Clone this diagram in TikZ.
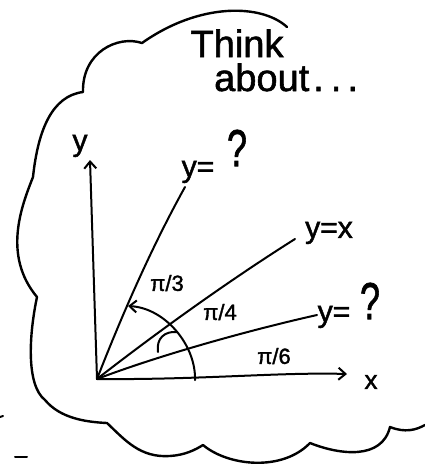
\documentclass[tikz,border=0pt]{standalone}
\usepackage{fontspec}
\setmainfont[FakeBold=1.5]{Liberation Sans}
\usetikzlibrary{arrows.meta}
\begin{document}
\begin{tikzpicture}[x=1pt,y=-1pt,
  pen/.style={line width=2pt,line cap=round,line join=round},
  cloudline/.style={line width=2.4pt,line cap=round,line join=round},
  head/.style={-{Straight Barb[length=7pt,width=12pt,line width=2pt]}},
  lab/.style={inner sep=0pt,font=\fontsize{22}{22}\selectfont},
  eqn/.style={inner sep=0pt,font=\fontsize{30}{30}\selectfont},
  big/.style={inner sep=0pt,font=\fontsize{38}{38}\selectfont},
  qm/.style={inner sep=0pt,font=\fontsize{36}{36}\selectfont,yscale=1.45}]
\useasboundingbox (0,0) rectangle (425,467);
% cloud (open on the right)
\draw[cloudline] (287,27) .. controls (262,4) and (200,2) .. (142,43)
  .. controls (118,35) and (82,52) .. (83,92)
  .. controls (52,96) and (38,130) .. (33,177)
  .. controls (22,205) and (2,255) .. (37,297)
  .. controls (29,335) and (26,385) .. (45,400)
  .. controls (60,418) and (85,422) .. (107,423)
  .. controls (125,440) and (140,458) .. (170,456)
  .. controls (185,455) and (195,450) .. (203,445)
  .. controls (228,466) and (282,472) .. (310,443)
  .. controls (340,455) and (382,460) .. (390,427)
  .. controls (405,433) and (416,430) .. (425,425);
% small marks at left
\draw[pen] (0,417) -- (3,416);
\draw[pen] (15,457) -- (27,457);
% coordinates
\coordinate (O) at (97,379);
\coordinate (Ytop) at (90,160);
\coordinate (Xend) at (347,374);
\coordinate (L3) at (185,187);
\coordinate (L4) at (295,239);
\coordinate (L6) at (317,315);
\coordinate (A0) at (195,380);
\coordinate (A1) at (128,306);
\coordinate (B0) at (158,352);
\coordinate (B1) at (177,332);
% axes
\draw[pen,head] (O) -- (Ytop);
\draw[pen,head] (O) .. controls (200,380) and (280,372) .. (Xend);
% lines
\draw[pen] (O) .. controls (120,320) and (150,250) .. (L3);
\draw[pen] (O) .. controls (160,330) and (230,280) .. (L4);
\draw[pen] (O) .. controls (160,355) and (250,330) .. (L6);
% angle arcs
\draw[pen,head] (A0) .. controls (196,345) and (165,308) .. (A1);
\draw[pen] (B0) .. controls (156,338) and (165,331) .. (B1);
% texts
\node[big,anchor=base] (think) at (237,57) {Think};
\node[big,anchor=base west] (about) at (214,91) {about\kern4pt.\kern7pt.\kern6pt.};
\node[eqn] (ylab) at (80,146) {y};
\node[lab,font=\fontsize{26}{26}\selectfont] (xlab) at (371,382) {x};
\node[eqn] (q1) at (198,172) {y=};
\node[qm] (q1m) at (237,148) {?};
\node[eqn] (yx) at (329,233) {y=x};
\node[eqn] (q2) at (334,317) {y=};
\node[qm] (q2m) at (370,301) {?};
\node[lab] (p3) at (167,283) {π/3};
\node[lab] (p4) at (220,312) {π/4};
\node[lab] (p6) at (274,356) {π/6};
\end{tikzpicture}
\end{document}
